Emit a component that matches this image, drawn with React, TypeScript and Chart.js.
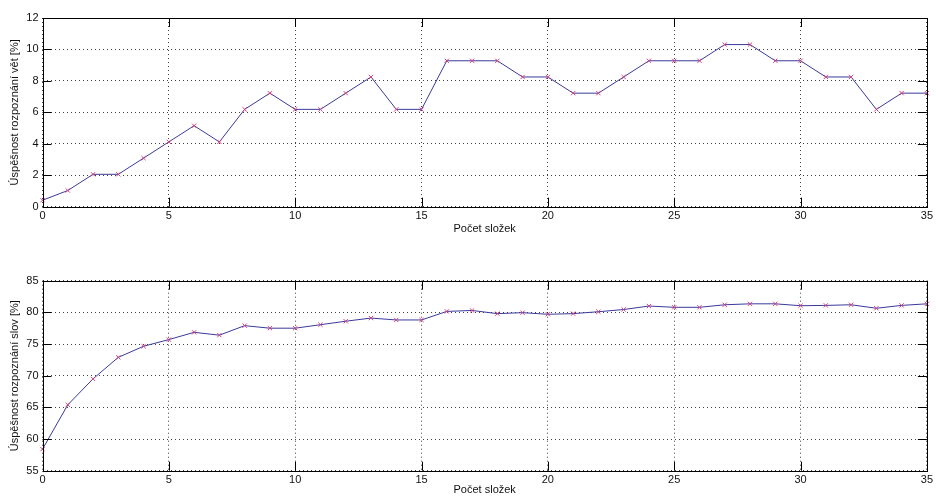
import React, { useEffect, useRef } from "react";
import { Chart, registerables } from "chart.js";

Chart.register(...registerables);

const components: number[] = Array.from({ length: 36 }, (_, i) => i);

const sentenceRate: number[] = [
  0.41, 1.03, 2.06, 2.06, 3.09, 4.12, 5.15, 4.12, 6.19, 7.22,
  6.19, 6.19, 7.22, 8.25, 6.19, 6.19, 9.28, 9.28, 9.28, 8.25,
  8.25, 7.22, 7.22, 8.25, 9.28, 9.28, 9.28, 10.31, 10.31, 9.28,
  9.28, 8.25, 8.25, 6.19, 7.22, 7.22,
];

const wordRate: number[] = [
  58.4, 65.4, 69.5, 72.9, 74.65, 75.7, 76.85, 76.4, 77.9, 77.5,
  77.5, 78.05, 78.6, 79.1, 78.8, 78.8, 80.15, 80.3, 79.8, 79.95,
  79.7, 79.8, 80.1, 80.45, 81.0, 80.8, 80.8, 81.2, 81.35, 81.35,
  81.05, 81.1, 81.2, 80.65, 81.1, 81.35,
];

const xTitle = "Počet složek";
const yTitleTop = "Úspěšnost rozpoznání vět [%]";
const yTitleBottom = "Úspěšnost rozpoznání slov [%]";

const FONT = "'Liberation Sans', Arial, sans-serif";
const LINE_COLOR = "#3a3a9c";
const MARKER_COLOR = "#d2407e";

const boxPlugin = {
  id: "matlabBox",
  afterDraw(chart: any) {
    const { ctx, chartArea } = chart;
    const { left, right, top, bottom } = chartArea;
    const xs = chart.scales.x;
    const ys = chart.scales.y;
    const tl = 9;
    ctx.save();
    ctx.strokeStyle = "#000";
    ctx.lineWidth = 1;
    ctx.setLineDash([]);
    ctx.beginPath();
    xs.ticks.forEach((t: any) => {
      const px = Math.round(xs.getPixelForValue(t.value)) + 0.5;
      ctx.moveTo(px, bottom);
      ctx.lineTo(px, bottom - tl);
      ctx.moveTo(px, top);
      ctx.lineTo(px, top + tl);
    });
    ys.ticks.forEach((t: any) => {
      const py = Math.round(ys.getPixelForValue(t.value)) + 0.5;
      ctx.moveTo(left, py);
      ctx.lineTo(left + tl, py);
      ctx.moveTo(right, py);
      ctx.lineTo(right - tl, py);
    });
    ctx.stroke();
    ctx.strokeRect(Math.round(left) + 0.5, Math.round(top) + 0.5, Math.round(right - left), Math.round(bottom - top));
    ctx.restore();
  },
};

function makeConfig(
  values: number[],
  yMin: number,
  yMax: number,
  yStep: number,
  yTitle: string,
  padTop: number,
  xHeight: number,
  xTitlePadBottom: number
): any {
  return {
    type: "line",
    data: {
      datasets: [
        {
          data: components.map((x, i) => ({ x, y: values[i] })),
          borderColor: LINE_COLOR,
          borderWidth: 1,
          pointStyle: "crossRot",
          pointRadius: 3,
          pointBorderColor: MARKER_COLOR,
          pointBorderWidth: 1,
          pointBackgroundColor: MARKER_COLOR,
          tension: 0,
          fill: false,
          clip: false,
        },
      ],
    },
    options: {
      responsive: false,
      animation: false,
      events: [],
      layout: { padding: { top: padTop, left: 8, right: 5, bottom: 0 } },
      plugins: { legend: { display: false }, tooltip: { enabled: false } },
      scales: {
        x: {
          type: "linear",
          min: 0,
          max: 35,
          ticks: { stepSize: 5, padding: 3, color: "#111", font: { family: FONT, size: 11 }, maxRotation: 0 },
          grid: { color: "rgba(0,0,0,0.75)", drawTicks: false, lineWidth: 1 },
          border: { display: false, dash: [1, 3] },
          title: { display: true, text: xTitle, color: "#111", font: { family: FONT, size: 11 }, padding: { top: 0, bottom: xTitlePadBottom } },
          afterFit: (s: any) => {
            s.height = xHeight;
          },
        },
        y: {
          min: yMin,
          max: yMax,
          ticks: { stepSize: yStep, padding: 4, color: "#111", font: { family: FONT, size: 11 } },
          grid: { color: "rgba(0,0,0,0.75)", drawTicks: false, lineWidth: 1 },
          border: { display: false, dash: [1, 3] },
          title: { display: true, text: yTitle, color: "#111", font: { family: FONT, size: 11 }, padding: 0 },
          afterFit: (s: any) => {
            s.width = 34.5;
          },
        },
      },
    },
    plugins: [boxPlugin],
  };
}

export default function App() {
  const topRef = useRef<HTMLCanvasElement>(null);
  const bottomRef = useRef<HTMLCanvasElement>(null);

  useEffect(() => {
    const c1 = new Chart(topRef.current!, makeConfig(sentenceRate, 0, 12, 2, yTitleTop, 18, 38.3, 9.4));
    const c2 = new Chart(bottomRef.current!, makeConfig(wordRate, 55, 85, 5, yTitleBottom, 35.7, 26.3, 0));
    return () => {
      c1.destroy();
      c2.destroy();
    };
  }, []);

  return (
    <div style={{ position: "absolute", left: 0, top: 0, width: 936, height: 497, background: "#fff" }}>
      <canvas ref={topRef} width={936} height={245} style={{ display: "block", width: 936, height: 245 }} />
      <canvas ref={bottomRef} width={936} height={252} style={{ display: "block", width: 936, height: 252 }} />
    </div>
  );
}
